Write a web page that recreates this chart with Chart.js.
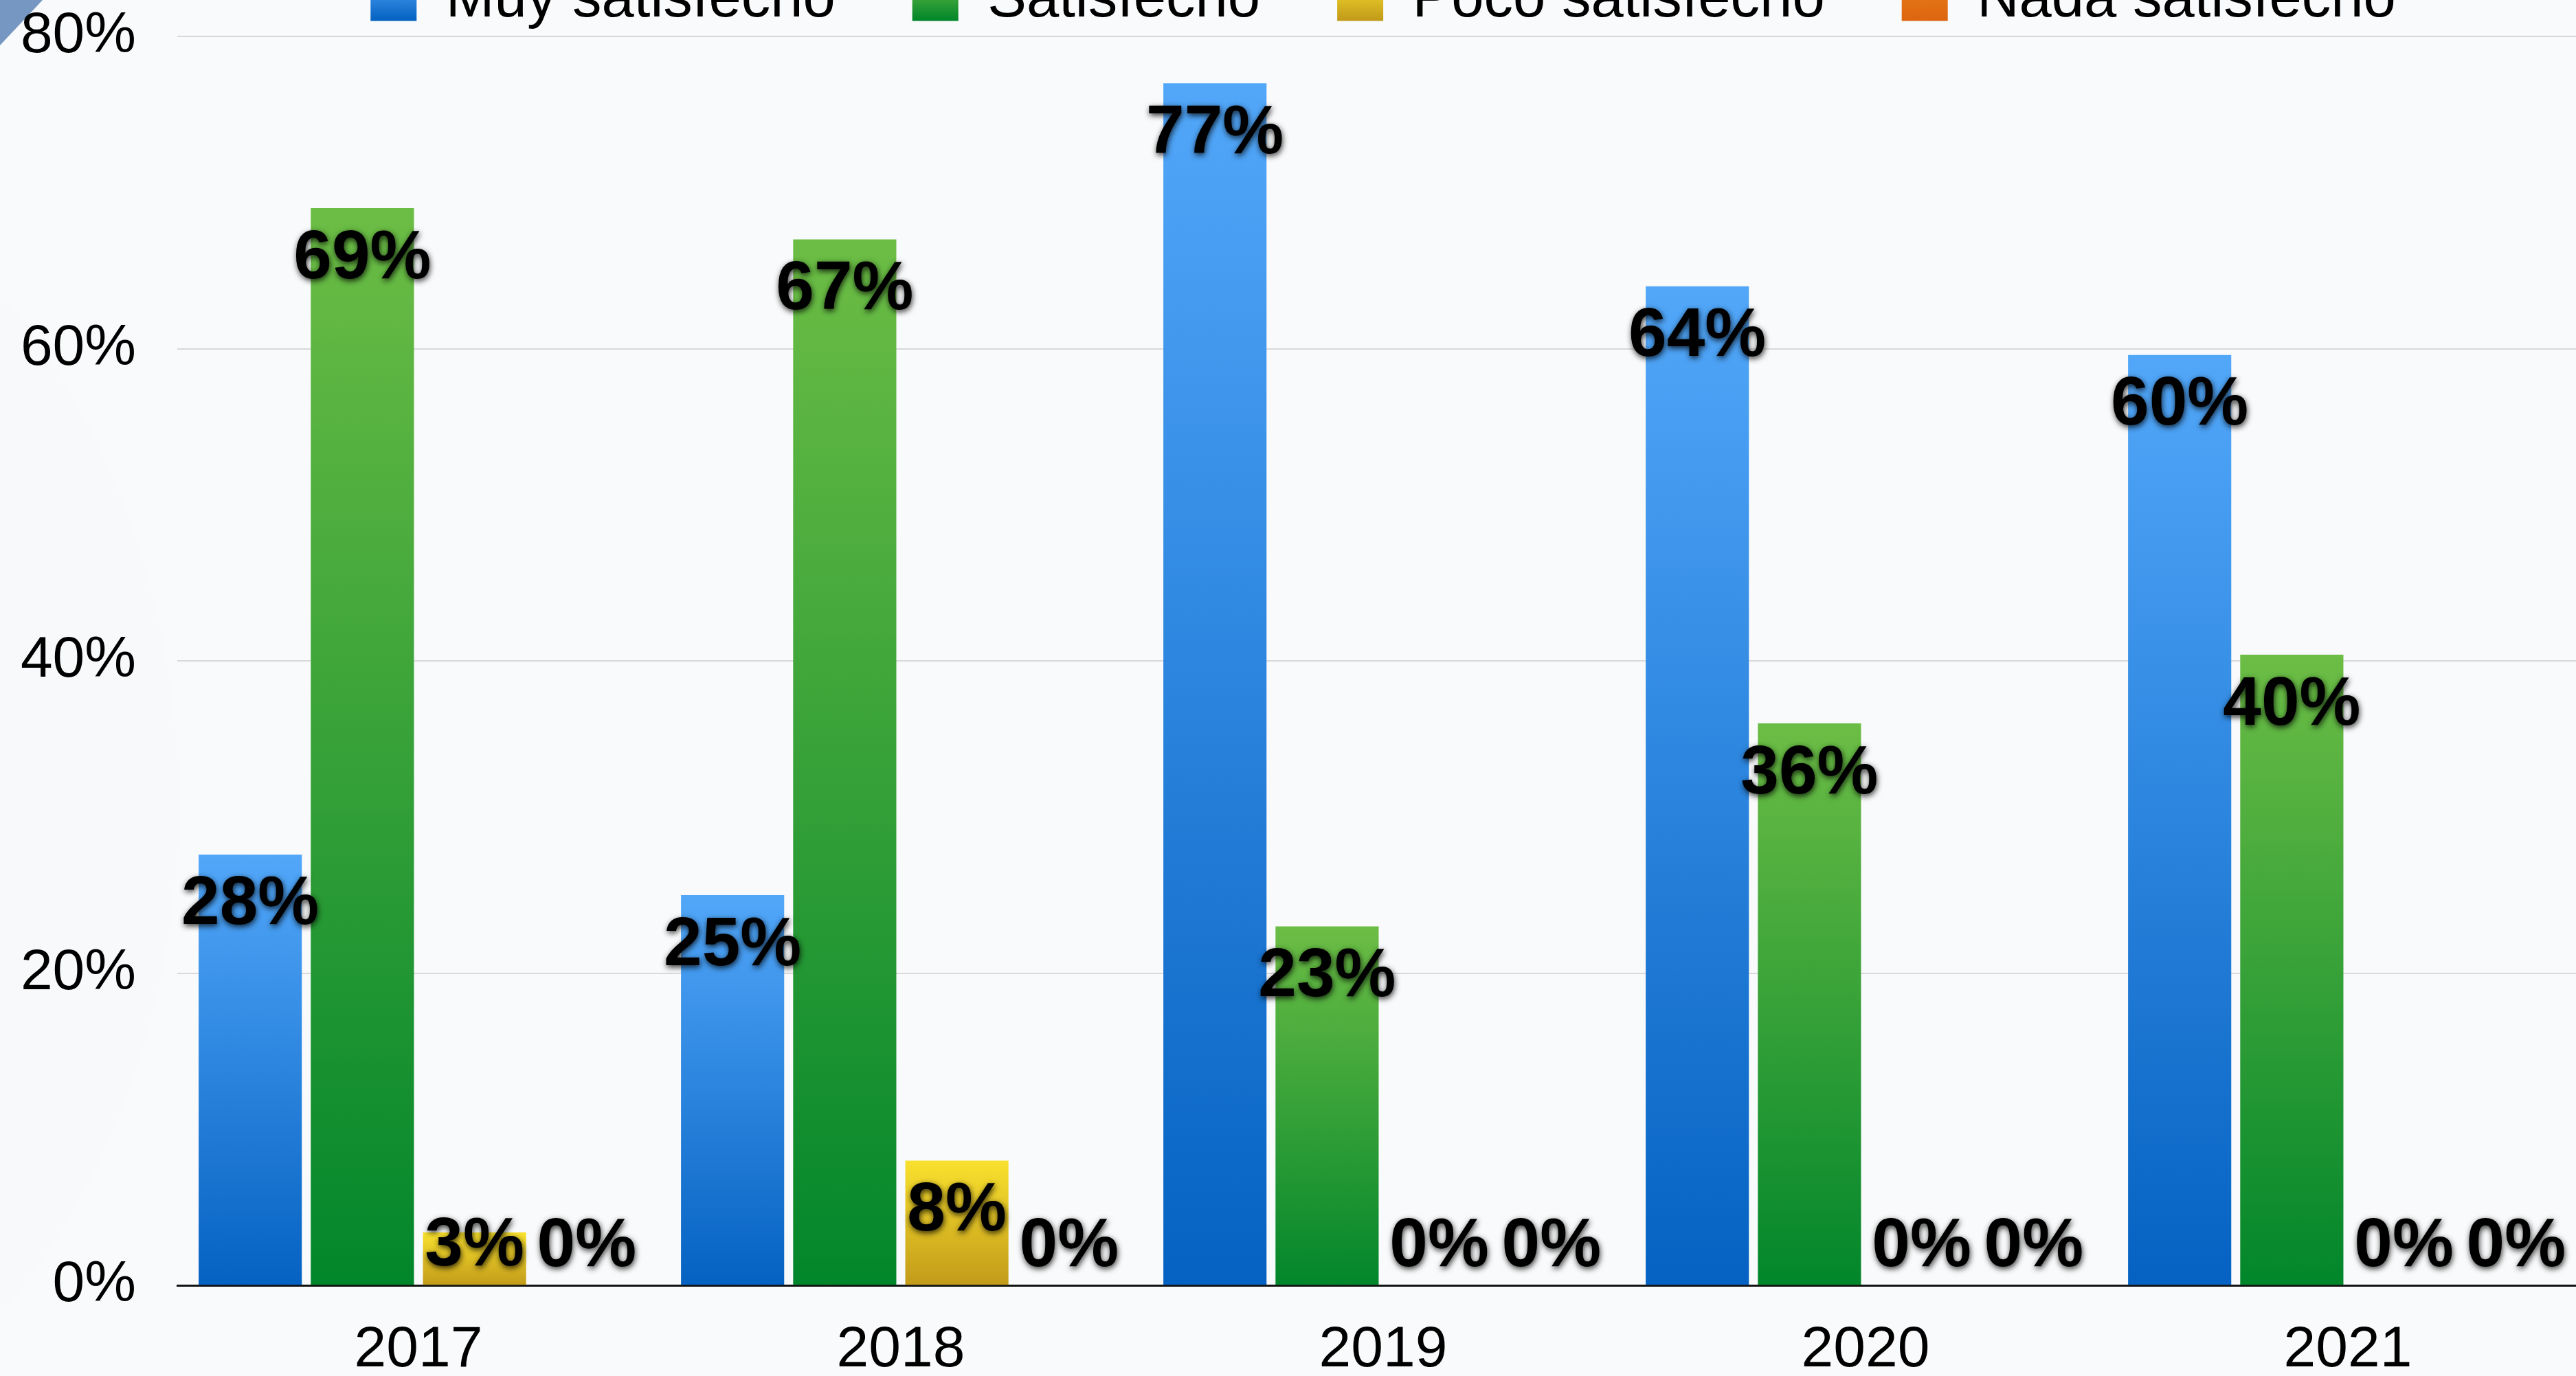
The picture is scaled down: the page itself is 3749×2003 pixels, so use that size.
<!DOCTYPE html>
<html>
<head>
<meta charset="utf-8">
<script src="https://cdn.jsdelivr.net/npm/chart.js@4/dist/chart.umd.min.js"></script>
<style>
    body{
        margin:0;
        width:3749px;
        height:2003px;
        overflow:hidden;
        position:relative;
        background:#f9fafb;
    }
    #corner{
        position:absolute; left:0; top:0; width:62px; height:66px;
        background:#7597c1;
        clip-path:polygon(0 0,100% 0,0 100%);
    }
    #arc{
        position:absolute; left:-1500px; top:120px; width:1760px; height:2100px;
        border-radius:50%;
        background:rgba(60,80,110,0.008);
    }
    #chartBox{
        position:absolute; left:0; top:-154px;
    }
</style>
</head>
<body>
<div id="arc"></div>
<div id="corner"></div>
<div id="chartBox"><canvas id="barChart" width="3768" height="2214"></canvas></div>
<script>
// data
var years = ['2017', '2018', '2019', '2020', '2021'];
var seriesNames = ['Muy satisfecho', 'Satisfecho', 'Poco satisfecho', 'Nada satisfecho'];
var muySatisfecho = [27.6, 25, 77, 64, 59.6];
var satisfecho = [69, 67, 23, 36, 40.4];
var pocoSatisfecho = [3.4, 8, 0, 0, 0];
var nadaSatisfecho = [0, 0, 0, 0, 0];
var yTicks = [0, 20, 40, 60, 80];

// top / bottom colour of every bar gradient
var topColors = ['#52a7f9', '#6cbd45', '#f9e12e', '#e8801a'];
var bottomColors = ['#0562c2', '#02862b', '#c29b1a', '#dd6510'];

var fontName = '"Liberation Sans", Arial, Helvetica, sans-serif';

function barGradient(i){
    return function(context){
        var chart = context.chart;
        if (!chart.chartArea || context.type !== 'data') return topColors[i];
        var y = chart.scales.y;
        var top = y.getPixelForValue(context.raw);
        var base = y.getPixelForValue(0);
        if (base - top < 1) top = base - 1;
        var g = chart.ctx.createLinearGradient(0, top, 0, base);
        g.addColorStop(0, topColors[i]);
        g.addColorStop(1, bottomColors[i]);
        return g;
    }
}

// legend squares get the same gradient, legend box sits at y 123..183 in the canvas
function legendLabels(chart){
    var items = Chart.defaults.plugins.legend.labels.generateLabels(chart);
    items.forEach(function(item, i){
        var g = chart.ctx.createLinearGradient(0, 123, 0, 183);
        g.addColorStop(0, topColors[i]);
        g.addColorStop(1, bottomColors[i]);
        item.fillStyle = g;
        item.lineWidth = 0;
    });
    return items;
}

// value labels with the dark blurred halo
var valueLabels = {
    id: 'valueLabels',
    afterDatasetsDraw: function(chart){
        var ctx = chart.ctx;
        ctx.save();
        ctx.font = 'bold 100px ' + fontName;
        ctx.textAlign = 'center';
        ctx.textBaseline = 'middle';
        ctx.fillStyle = '#000';
        ctx.shadowColor = 'rgba(0,0,0,0.8)';
        ctx.shadowBlur = 8;
        ctx.shadowOffsetX = 1;
        ctx.shadowOffsetY = 3;
        chart.data.datasets.forEach(function(ds, i){
            var meta = chart.getDatasetMeta(i);
            meta.data.forEach(function(bar, j){
                var y = Math.min(bar.y + 74, bar.base - 56);
                ctx.fillText(Math.round(ds.data[j]) + '%', bar.x, y);
            });
        });
        ctx.restore();
    }
};

var allSeries = [muySatisfecho, satisfecho, pocoSatisfecho, nadaSatisfecho];
var datasets = allSeries.map(function(values, i){
    return {
        label: seriesNames[i],
        data: values,
        backgroundColor: barGradient(i),
        borderWidth: 0,
        categoryPercentage: 0.93,
        barPercentage: 0.92
    };
});

var barChart = new Chart(document.getElementById('barChart'), {
    type: 'bar',
    data: {
        labels: years,
        datasets: datasets
    },
    options: {
        responsive: false,
        animation: false,
        devicePixelRatio: 1,
        layout: { padding: 0 },
        plugins: {
            legend: {
                position: 'top',
                fullSize: false,
                labels: {
                    boxWidth: 67,
                    boxHeight: 60,
                    padding: 112,
                    color: '#000',
                    font: { family: fontName, size: 85 },
                    generateLabels: legendLabels
                }
            },
            tooltip: { enabled: false }
        },
        scales: {
            x: {
                grid: { display: false, drawTicks: false },
                border: { display: true, color: '#111', width: 3 },
                ticks: {
                    color: '#000',
                    padding: 44,
                    font: { family: fontName, size: 84 }
                }
            },
            y: {
                min: yTicks[0],
                max: yTicks[yTicks.length - 1],
                afterFit: function(scale){ scale.width = 258; },
                afterBuildTicks: function(scale){
                    scale.ticks = yTicks.map(function(v){ return { value: v }; });
                },
                grid: { color: '#d9d9d9', lineWidth: 2, drawTicks: false },
                border: { display: false },
                ticks: {
                    color: '#000',
                    padding: 60,
                    font: { family: fontName, size: 84 },
                    callback: function(v){ return v + '%'; }
                }
            }
        }
    },
    plugins: [valueLabels]
});
</script>
</body>
</html>
